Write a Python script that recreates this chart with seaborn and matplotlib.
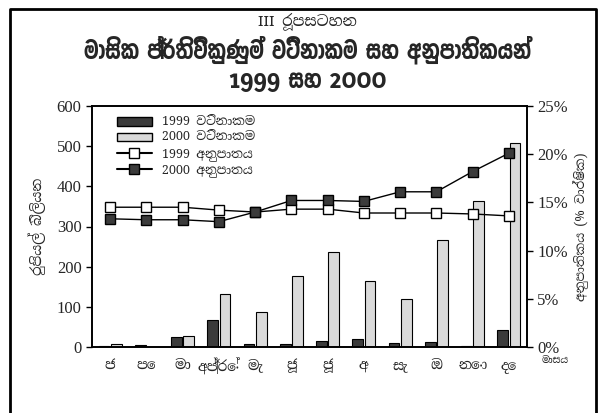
import numpy as np
import pandas as pd
import seaborn as sns
import matplotlib.pyplot as plt
from matplotlib.lines import Line2D
from matplotlib.patches import Patch

# month labels (Sinhala abbreviations)
months = ['ජ', 'පෙ', 'මා', 'අප්‍රේ', 'මැ', 'ජූ', 'ජූ', 'අ', 'සැ', 'ඔ', 'නො', 'දෙ']

# repurchase values, Rs. billion
value_1999 = [3, 6, 25, 67, 8, 8, 14, 19, 10, 12, 2, 42]
value_2000 = [7, 1, 28, 132, 87, 176, 237, 165, 119, 266, 364, 507]

# rates, % per annum
rate_1999 = [14.5, 14.5, 14.5, 14.2, 14.0, 14.3, 14.3, 13.9, 13.9, 13.9, 13.8, 13.6]
rate_2000 = [13.3, 13.2, 13.2, 13.0, 14.0, 15.2, 15.2, 15.1, 16.1, 16.1, 18.2, 20.1]

lab_v99 = '1999 වටිනාකම'
lab_v00 = '2000 වටිනාකම'
lab_r99 = '1999 අනුපාතය'
lab_r00 = '2000 අනුපාතය'

sns.set_theme(style='white')
plt.rcParams['font.family'] = ['Noto Serif Sinhala', 'Liberation Serif', 'DejaVu Serif']
serif = ['Liberation Serif', 'Noto Serif Sinhala']
bold_fam = ['Yaldevi Colombo', 'Noto Serif Sinhala', 'DejaVu Sans']

df = pd.DataFrame({
    'month': months * 2,
    'pos': list(range(12)) * 2,
    'value': value_1999 + value_2000,
    'series': [lab_v99] * 12 + [lab_v00] * 12,
})
df['key'] = df['pos'].astype(str)

fig = plt.figure(figsize=(6.15, 4.13), dpi=100)
ax = fig.add_axes([92 / 615, 1 - 347 / 413, 435 / 615, 241 / 413])

sns.barplot(data=df, x='key', y='value', hue='series', ax=ax,
            palette=['#3b3b3b', '#dadada'], edgecolor='black', linewidth=0.8,
            width=0.68, gap=0.12, legend=False)

ax.set_ylim(0, 600)
ax.set_xlim(-0.5, 11.5)
ax.set_yticks(range(0, 601, 100))
ax.set_yticklabels([str(v) for v in range(0, 601, 100)], family=serif, fontsize=12)
ax.set_xticks(np.arange(-0.5, 12, 1))
ax.set_xticklabels([])
ax.set_xticks(range(12), minor=True)
ax.set_xticklabels(months, minor=True, fontsize=10)
ax.tick_params(axis='x', which='major', direction='out', length=4, width=1, color='black')
ax.tick_params(axis='x', which='minor', length=0, pad=8)
ax.tick_params(axis='y', direction='out', length=4, width=1, color='black', left=True)
ax.set_xlabel('')
ax.set_ylabel('රුපියල් බිලියන', fontsize=10, labelpad=8)
for s in ax.spines.values():
    s.set_color('black')
    s.set_linewidth(1.2)

ax2 = ax.twinx()
sns.lineplot(x=list(range(12)), y=rate_1999, ax=ax2, color='black', linewidth=1,
             marker='s', markersize=7, mfc='white', mec='black', mew=1)
sns.lineplot(x=list(range(12)), y=rate_2000, ax=ax2, color='black', linewidth=1,
             marker='s', markersize=7, mfc='#3b3b3b', mec='black', mew=1)
ax2.set_ylim(0, 25)
ax2.set_xlim(-0.5, 11.5)
ax2.set_yticks(range(0, 26, 5))
ax2.set_yticklabels([f'{v}%' for v in range(0, 26, 5)], family=serif, fontsize=12)
ax2.tick_params(axis='y', direction='out', length=4, width=1, color='black', right=True)
ax2.set_ylabel('අනුපාතිකය (% වාර්ෂික)', rotation=90, fontsize=9, labelpad=4)
ax2.grid(False)
for s in ax2.spines.values():
    s.set_color('black')
    s.set_linewidth(1.2)

handles = [
    Patch(facecolor='#3b3b3b', edgecolor='black', label=lab_v99),
    Patch(facecolor='#dadada', edgecolor='black', label=lab_v00),
    Line2D([], [], color='black', marker='s', mfc='white', mec='black', markersize=7, label=lab_r99),
    Line2D([], [], color='black', marker='s', mfc='#3b3b3b', mec='black', markersize=7, label=lab_r00),
]
ax2.legend(handles=handles, loc='upper left', bbox_to_anchor=(0.04, 0.99), frameon=False,
           fontsize=9, handlelength=2.8, labelspacing=0.2, borderaxespad=0.2)

fig.text(555 / 615, 1 - 360 / 413, 'මාසය', fontsize=7, ha='center', va='center')

# titles
fig.text(0.5, 1 - 22 / 413, 'III රූපසටහන', fontsize=11, ha='center', va='center')
fig.text(0.5, 1 - 50 / 413, 'මාසික ප්‍රතිවිකුණුම් වටිනාකම සහ අනුපාතිකයන්',
         fontsize=19.5, fontweight='bold', family=bold_fam, ha='center', va='center')
fig.text(0.5, 1 - 81 / 413, '1999 සහ 2000', fontsize=19.5, fontweight='bold',
         family=bold_fam, ha='center', va='center')

# outer frame
fig.add_artist(Line2D([10 / 615, 10 / 615, 596 / 615, 596 / 615],
                      [0, 1 - 9 / 413, 1 - 9 / 413, 0],
                      transform=fig.transFigure, color='black', linewidth=2))

fig.savefig('out.png', dpi=100)
